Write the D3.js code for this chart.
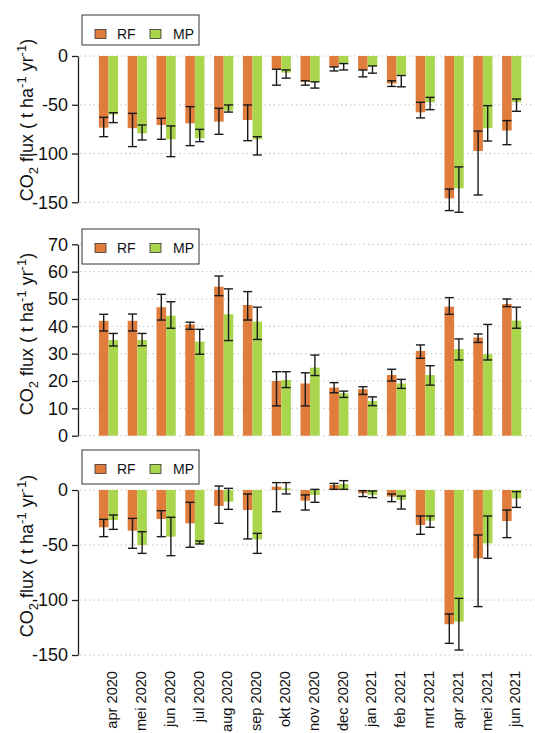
<!DOCTYPE html>
<html>
<head>
<meta charset="utf-8">
<script src="https://cdn.jsdelivr.net/npm/d3@7"></script>
<style>
  body { margin: 0; background: #fff; }
  text { font-family: "Liberation Sans", Arial, sans-serif; }
</style>
</head>
<body>
<script>
// months on the x axis (shared by all three panels)
var months = ["apr 2020", "mei 2020", "jun 2020", "jul 2020", "aug 2020", "sep 2020", "okt 2020",
  "nov 2020", "dec 2020", "jan 2021", "feb 2021", "mrt 2021", "apr 2021", "mei 2021", "jun 2021"];
var seriesNames = ["RF", "MP"];

// top panel
var rfTop   = [-73.5, -74, -70.7, -69, -67.3, -65.6, -13.6, -26.5, -11.2, -14.6, -28.2, -57.7, -145.9, -97.4, -76.4];
var rfTopLo = [-82.7, -92.9, -85.4, -91.9, -80.3, -86.8, -29.9, -29.9, -15.3, -21.4, -31.2, -63.5, -158.5, -142.5, -90.9];
var rfTopHi = [-62.9, -58.8, -63.9, -51.9, -53.6, -50.2, -13.6, -25.4, -11.2, -14.3, -25.4, -47.5, -136.4, -77, -66.2];
var mpTop   = [-60, -79.3, -85.4, -84.4, -56, -85.4, -17, -26.5, -7.8, -10.2, -19.3, -47.5, -135.7, -74, -47.5];
var mpTopLo = [-68.3, -86.1, -103.2, -87.8, -57.5, -101.5, -22.7, -32.9, -14.3, -17.6, -31.6, -55, -160.2, -87.2, -56.7];
var mpTopHi = [-58.1, -70.7, -71.7, -75.2, -50.2, -82.7, -14.3, -26.5, -7.8, -10.2, -20, -42.4, -113.7, -50.9, -44.1];
var ticksTop = [0, -50, -100, -150];

// middle panel
var rfMid   = [42, 42, 47, 40.7, 54.5, 47.8, 20, 19.1, 17.6, 17, 22.2, 31, 47.2, 35.9, 48.2];
var rfMidLo = [38.3, 38.3, 42.3, 38.9, 51.2, 42.3, 10.9, 10.9, 15.7, 15.1, 20, 28.3, 44.4, 34.1, 47.2];
var rfMidHi = [44.4, 44.5, 51.7, 41.5, 58.4, 52.7, 23.4, 23, 19.4, 17.9, 24.3, 33.2, 50.5, 37.2, 50];
var mpMid   = [35, 35, 43.9, 34.4, 44.4, 41.7, 20.4, 24.9, 15.5, 12.7, 19.1, 22.2, 31.7, 29.8, 42.1];
var mpMidLo = [32.8, 32.9, 39.3, 29.8, 34.8, 35.2, 17.6, 22, 14, 11, 17.3, 18.5, 27.7, 27.7, 39.3];
var mpMidHi = [37.4, 37.4, 49, 38.9, 53.7, 47, 23.4, 29.5, 16.3, 14.2, 20.6, 25.6, 35.4, 40.7, 47];
var ticksMid = [0, 10, 20, 30, 40, 50, 60, 70];

// bottom panel
var rfBot   = [-33.9, -37, -26.4, -30.3, -14.5, -18.2, 3, -9.7, 4.5, -3, -6, -31.8, -122, -62.1, -28.2];
var rfBotLo = [-42.4, -53, -42.4, -52.1, -30.3, -44.5, -19.7, -18.2, 0.6, -6, -10.6, -40.3, -139.4, -106, -43.3];
var rfBotHi = [-26.7, -25.8, -18.8, -11.2, 3.6, -3.6, 6.7, -4.5, 6, -0.6, -3.6, -23.6, -112.7, -40.9, -18.2];
var mpBot   = [-27.3, -50, -42.4, -49.1, -10.6, -44.8, 1.5, -4.5, 5.5, -4.5, -9, -27.9, -119.7, -48.5, -7.6];
var mpBotLo = [-35.8, -57.6, -59.7, -49.1, -17.6, -57.6, -3.6, -11.2, 0.6, -7, -17.3, -33.9, -145.5, -62.1, -15.8];
var mpBotHi = [-22.7, -37.9, -24.8, -46.4, 1.5, -39.4, 6.7, 0.6, 8.5, -0.9, -5.5, -23.6, -98.5, -23.6, -1.5];
var ticksBot = [0, -50, -100, -150];

var colors = { RF: "#e07c3c", MP: "#a9d64c" };

var width = 535, height = 733;
var axisX = 78;

var svg = d3.select("body").append("svg")
    .attr("width", width)
    .attr("height", height);

var x = d3.scaleBand()
    .domain(months)
    .range([84.5, 535.7])
    .paddingInner(1 / 3)
    .paddingOuter(0.5);

var xSub = d3.scaleBand()
    .domain(seriesNames)
    .range([0, x.bandwidth()]);

var panels = [
  { RF: [rfTop, rfTopLo, rfTopHi], MP: [mpTop, mpTopLo, mpTopHi], ticks: ticksTop,
    domain: [-150, 0], range: [202.3, 56], legendY: 15, legendH: 30, titleY: 120 },
  { RF: [rfMid, rfMidLo, rfMidHi], MP: [mpMid, mpMidLo, mpMidHi], ticks: ticksMid,
    domain: [0, 70], range: [435.7, 244.3], legendY: 229, legendH: 35, titleY: 334 },
  { RF: [rfBot, rfBotLo, rfBotHi], MP: [mpBot, mpBotLo, mpBotHi], ticks: ticksBot,
    domain: [-150, 0], range: [655, 490], legendY: 450, legendH: 34, titleY: 556 }
];

panels.forEach(function(p) {
  var y = d3.scaleLinear().domain(p.domain).range(p.range);
  var g = svg.append("g");

  // dotted grid lines
  g.selectAll(".grid")
    .data(p.ticks)
    .enter().append("line")
    .attr("x1", axisX + 2).attr("x2", width)
    .attr("y1", function(d) { return y(d); })
    .attr("y2", function(d) { return y(d); })
    .attr("stroke", "#c4c4c4")
    .attr("stroke-width", 1)
    .attr("stroke-dasharray", "1.5,3");

  seriesNames.forEach(function(s) {
    var vals = p[s][0], lo = p[s][1], hi = p[s][2];

    g.selectAll(".bar-" + s)
      .data(months)
      .enter().append("rect")
      .attr("x", function(m) { return x(m) + xSub(s); })
      .attr("width", xSub.bandwidth())
      .attr("y", function(m, i) { return y(Math.max(0, vals[i])); })
      .attr("height", function(m, i) { return Math.abs(y(vals[i]) - y(0)); })
      .attr("fill", colors[s]);

    // error bars with caps
    var cx = function(m) { return x(m) + xSub(s) + xSub.bandwidth() / 2; };
    var eb = g.selectAll(".err-" + s)
      .data(months)
      .enter().append("g")
      .attr("stroke", "#1a1a1a")
      .attr("stroke-width", 1.4);
    eb.append("line")
      .attr("x1", cx).attr("x2", cx)
      .attr("y1", function(m, i) { return y(lo[i]); })
      .attr("y2", function(m, i) { return y(hi[i]); });
    [lo, hi].forEach(function(arr) {
      eb.append("line")
        .attr("x1", function(m) { return cx(m) - 4.5; })
        .attr("x2", function(m) { return cx(m) + 4.5; })
        .attr("y1", function(m, i) { return y(arr[i]); })
        .attr("y2", function(m, i) { return y(arr[i]); });
    });
  });

  // y axis, R style
  var axis = g.append("g")
    .attr("transform", "translate(" + axisX + ",0)")
    .call(d3.axisLeft(y).tickValues(p.ticks).tickSize(6).tickSizeOuter(0).tickPadding(4)
      .tickFormat(function(d) { return String(d); }));
  axis.select(".domain").attr("stroke", "#222").attr("stroke-width", 1.3);
  axis.selectAll(".tick line").attr("stroke", "#222").attr("stroke-width", 1.3);
  axis.selectAll(".tick text")
    .attr("fill", "#111")
    .style("font-size", "18px")
    .style("font-family", "'Liberation Sans', Arial, sans-serif");

  // axis title: CO2 flux ( t ha-1 yr-1)
  var title = g.append("text")
    .attr("transform", "translate(33," + p.titleY + ") rotate(-90)")
    .attr("text-anchor", "middle")
    .attr("fill", "#111")
    .style("font-size", "18px");
  title.append("tspan").text("CO");
  title.append("tspan").attr("dy", 5).style("font-size", "13px").text("2");
  title.append("tspan").attr("dy", -5).text(" flux ( t ha");
  title.append("tspan").attr("dy", -7).style("font-size", "13px").text("-1");
  title.append("tspan").attr("dy", 7).text("  yr");
  title.append("tspan").attr("dy", -7).style("font-size", "13px").text("-1");
  title.append("tspan").attr("dy", 7).text(")");

  // legend box
  var lg = g.append("g").attr("transform", "translate(82," + p.legendY + ")");
  lg.append("rect")
    .attr("width", 117).attr("height", p.legendH)
    .attr("fill", "#fff").attr("stroke", "#333").attr("stroke-width", 1);
  var items = [{ name: "RF", sx: 13, tx: 35 }, { name: "MP", sx: 68, tx: 91 }];
  items.forEach(function(it) {
    lg.append("rect")
      .attr("x", it.sx).attr("y", 14.5)
      .attr("width", 11).attr("height", 9)
      .attr("fill", colors[it.name]).attr("stroke", "#333").attr("stroke-width", 0.8);
    lg.append("text")
      .attr("x", it.tx).attr("y", 19)
      .attr("dy", "0.35em")
      .attr("fill", "#111")
      .style("font-size", "14px")
      .text(it.name);
  });
});

// month labels under the bottom panel
svg.append("g").selectAll("text")
  .data(months)
  .enter().append("text")
  .attr("transform", function(m) {
    return "translate(" + (x(m) + x.bandwidth() / 2 + 3.5) + ",671) rotate(-90)";
  })
  .attr("text-anchor", "end")
  .attr("dy", "0.35em")
  .attr("fill", "#111")
  .style("font-size", "14.6px")
  .text(function(m) { return m; });
</script>
</body>
</html>
